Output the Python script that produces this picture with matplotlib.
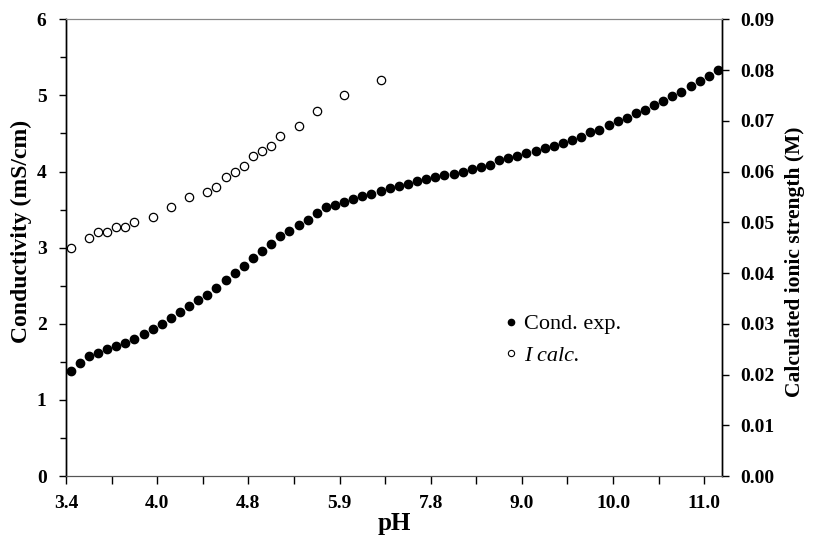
import numpy as np
from matplotlib import pyplot as plt
from matplotlib.lines import Line2D

# titration points (category axis, one per measurement)
cond_exp = [1.38, 1.48, 1.58, 1.62, 1.67, 1.71, 1.75, 1.80, 1.86, 1.93,
            2.00, 2.07, 2.16, 2.24, 2.31, 2.38, 2.47, 2.57, 2.67, 2.76,
            2.86, 2.96, 3.05, 3.15, 3.22, 3.30, 3.37, 3.45, 3.53, 3.56,
            3.60, 3.64, 3.68, 3.71, 3.74, 3.78, 3.81, 3.84, 3.87, 3.90,
            3.93, 3.95, 3.97, 4.00, 4.03, 4.06, 4.09, 4.15, 4.18, 4.21,
            4.24, 4.27, 4.31, 4.34, 4.37, 4.41, 4.45, 4.52, 4.55, 4.61,
            4.66, 4.71, 4.77, 4.81, 4.87, 4.93, 4.99, 5.05, 5.12, 5.19,
            5.26, 5.33]

# calculated ionic strength, only at some of the points
i_calc_idx = [0, 2, 3, 4, 5, 6, 7, 9, 11, 13, 15, 16, 17, 18, 19, 20, 21,
              22, 23, 25, 27, 30, 34]
i_calc = [0.045, 0.047, 0.048, 0.048, 0.049, 0.049, 0.050, 0.051, 0.053,
          0.055, 0.056, 0.057, 0.059, 0.060, 0.061, 0.063, 0.064, 0.065,
          0.067, 0.069, 0.072, 0.075, 0.078]

ph_labels = ["3.4", "4.0", "4.8", "5.9", "7.8", "9.0", "10.0", "11.0"]


def main():
    plt.rcParams["font.family"] = ["Liberation Serif", "DejaVu Serif"]
    plt.rcParams["font.weight"] = "bold"
    plt.rcParams["axes.labelweight"] = "bold"

    fig = plt.figure(figsize=(8.16, 5.41), dpi=100)
    ax = fig.add_axes([0.0809, 0.1201, 0.8045, 0.8442])
    ax2 = ax.twinx()

    n = len(cond_exp)
    x = np.arange(n) + 0.5
    ax.plot(x, cond_exp, "o", color="black", markersize=6, zorder=3)

    xi = np.array(i_calc_idx) + 0.5
    ax2.plot(xi, i_calc, "o", markerfacecolor="white", markeredgecolor="black",
             markersize=6, markeredgewidth=0.9, zorder=3)

    ax.set_xlim(0, n)
    ax.set_ylim(0, 6)
    ax2.set_ylim(0, 0.09)

    ax.set_xticks(np.arange(0, n, 10))
    ax.set_xticklabels(ph_labels)
    ax.set_xticks(np.arange(5, n, 10), minor=True)
    ax.set_yticks(np.arange(0, 7, 1))
    ax.set_yticks(np.arange(0.5, 6, 1), minor=True)
    ax2.set_yticks(np.arange(0, 0.091, 0.01))
    ax2.set_yticklabels([f"{v:.2f}" for v in np.arange(0, 0.091, 0.01)])

    ax.tick_params(axis="x", which="both", direction="out", length=6, width=1,
                   labelsize=14, pad=8)
    ax.tick_params(axis="y", which="major", direction="out", length=5, width=1,
                   labelsize=14, pad=9)
    ax.tick_params(axis="y", which="minor", direction="out", length=4, width=1)
    ax2.tick_params(axis="y", direction="out", length=5, width=1,
                    labelsize=14, pad=8)

    for a in (ax, ax2):
        a.spines["top"].set_color("#888888")
        a.spines["top"].set_linewidth(0.8)
        a.spines["left"].set_linewidth(1)
        a.spines["right"].set_linewidth(1)
        a.spines["bottom"].set_color("#555555")

    ax.set_xlabel("pH", fontsize=18, labelpad=0)
    ax.set_ylabel("Conductivity (mS/cm)", fontsize=17, labelpad=8)
    ax.yaxis.set_label_coords(-0.052, 0.535)
    ax2.set_ylabel("Calculated ionic strength (M)", fontsize=15.5, labelpad=9)
    ax2.yaxis.set_label_coords(1.095, 0.47)

    handles = [
        Line2D([], [], linestyle="none", marker="o", color="black", markersize=4.5),
        Line2D([], [], linestyle="none", marker="o", markerfacecolor="white",
               markeredgecolor="black", markersize=4.5, markeredgewidth=0.8),
    ]
    leg = ax.legend(handles, ["Cond. exp.", "I calc."], loc="upper left",
                    bbox_to_anchor=(0.667, 0.355), frameon=False,
                    handlelength=0.6, handletextpad=0.3, labelspacing=0.5,
                    borderpad=0, borderaxespad=0,
                    prop={"family": "Liberation Serif", "weight": "normal", "size": 16})
    leg.get_texts()[1].set_fontstyle("italic")

    fig.savefig("out.png", dpi=100)


if __name__ == '__main__':
    main()
